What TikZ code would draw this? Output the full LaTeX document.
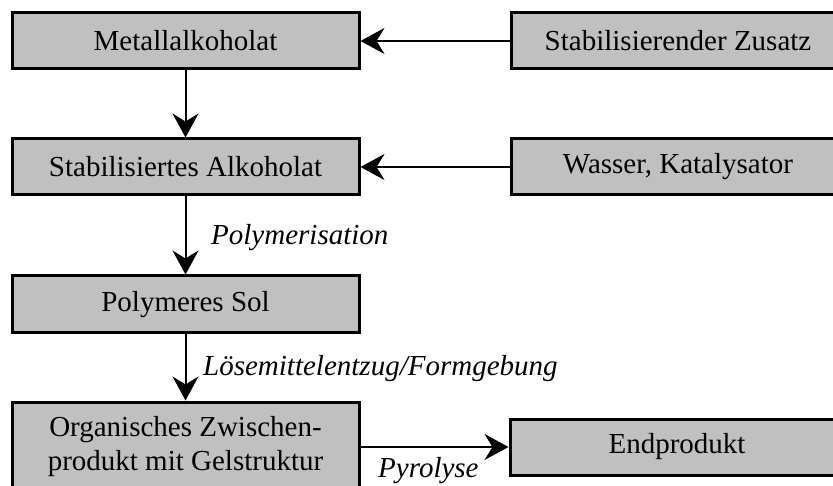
\documentclass[tikz,border=0pt]{standalone}
\usepackage{fontspec}
\setmainfont{Liberation Serif}
\usetikzlibrary{arrows.meta}
\definecolor{boxgray}{HTML}{C0C0C0}
\begin{document}
\begin{tikzpicture}[x=1pt,y=-1pt,
  procbox/.style={draw=black,line width=3pt,fill=boxgray,inner sep=0pt},
  flow/.style={line width=2pt,-{Stealth[length=24pt,width=26pt,inset=8pt]}},
  lbl/.style={font=\fontsize{29}{34}\selectfont\itshape,inner sep=0pt,anchor=base west}]
\useasboundingbox (0,0) rectangle (833,486);
\clip (0,0) rectangle (833,486);
\fontsize{29}{34}\selectfont
\node[procbox,minimum width=347pt,minimum height=56pt] (ma) at (185.5,41) {Metallalkoholat};
\node[procbox,minimum width=334pt,minimum height=56pt] (sz) at (678,41) {Stabilisierender Zusatz};
\node[procbox,minimum width=347pt,minimum height=56pt] (sa) at (185.5,167) {Stabilisiertes Alkoholat};
\node[procbox,minimum width=334pt,minimum height=56pt] (wk) at (678,167) {Wasser, Katalysator};
\node[procbox,minimum width=347pt,minimum height=57pt] (ps) at (185.5,304.5) {Polymeres Sol};
\node[procbox,minimum width=347pt,minimum height=90pt,align=center] (oz) at (185.5,447)
  {\fontsize{29}{34}\selectfont Organisches Zwischen-\\produkt mit Gelstruktur};
\node[procbox,minimum width=334pt,minimum height=56pt] (ep) at (677,447) {Endprodukt};
\draw[flow] (sz.west) -- (ma.east);
\draw[flow] (wk.west) -- (sa.east);
\draw[flow] (ma.south) -- (sa.north);
\draw[flow] (sa.south) -- (ps.north);
\draw[flow] (ps.south) -- (oz.north);
\draw[flow] (oz.east |- ep.west) -- (ep.west);
\node[lbl] (l1) at (211,245) {Polymerisation};
\node[lbl] (l2) at (203,375) {Lösemittelentzug/Formgebung};
\node[lbl] (l3) at (378,477) {Pyrolyse};
\end{tikzpicture}
\end{document}
